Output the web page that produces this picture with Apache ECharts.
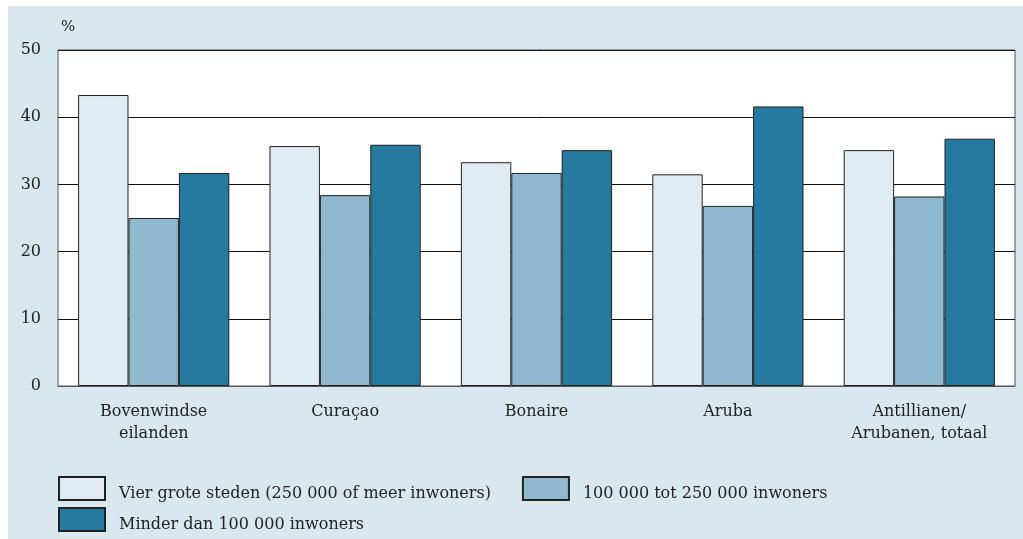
<!DOCTYPE html>
<html>
<head>
<meta charset="utf-8">
<script src="https://cdn.jsdelivr.net/npm/echarts@6/dist/echarts.min.js"></script>
<style>html,body{margin:0;padding:0;background:#fff}#c{width:1023px;height:539px}</style>
</head>
<body>
<div id="c"></div>
<script>
const categories = ['Bovenwindse\neilanden', 'Curaçao', 'Bonaire', 'Aruba', 'Antillianen/\nArubanen, totaal'];
const seriesNames = ['Vier grote steden (250 000 of meer inwoners)', '100 000 tot 250 000 inwoners', 'Minder dan 100 000 inwoners'];
const grootsteden = [43.3, 35.7, 33.3, 31.5, 35.1];
const middel = [25.0, 28.4, 31.7, 26.8, 28.2];
const klein = [31.7, 35.9, 35.1, 41.6, 36.8];
const colors = ['#e0ebf2', '#8fb9cf', '#26799f'];
const FONT = 'DejaVu Serif';

const chart = echarts.init(document.getElementById('c'), null, {renderer: 'canvas'});
const mk = (i, data) => ({
  name: seriesNames[i], type: 'bar', data: data,
  barGap: '0%', barCategoryGap: '21%',
  itemStyle: {color: colors[i], borderColor: '#222', borderWidth: 1},
  emphasis: {disabled: true}
});
const legendText = {
  fontFamily: FONT, fontSize: 16, color: '#222',
  rich: {a: {fontFamily: FONT, fontSize: 16, color: '#222', padding: [10, 0, 0, 9]}}
};
chart.setOption({
  animation: false,
  textStyle: {fontFamily: FONT},
  graphic: [
    {type: 'rect', z: -10, shape: {x: 8, y: 6, width: 1015, height: 533}, style: {fill: '#d9e7ef'}},
    {type: 'text', left: 61, top: 20, style: {text: '%', fontFamily: FONT, fontSize: 15, fill: '#222'}}
  ],
  grid: {left: 58, right: 8, top: 50, bottom: 153, show: true, backgroundColor: '#fff', borderColor: '#555', borderWidth: 1},
  legend: [
    {data: [seriesNames[0], seriesNames[1]], left: 58, top: 476, padding: 0, itemWidth: 46, itemHeight: 23, itemGap: 31,
     icon: 'rect', formatter: '{a|{name}}', textStyle: legendText},
    {data: [seriesNames[2]], left: 58, top: 507, padding: 0, itemWidth: 46, itemHeight: 23,
     icon: 'rect', formatter: '{a|{name}}', textStyle: legendText}
  ],
  xAxis: {
    type: 'category', data: categories,
    axisLine: {show: true, lineStyle: {color: '#555'}}, axisTick: {show: false},
    axisLabel: {fontFamily: FONT, fontSize: 16, color: '#222', margin: 15, lineHeight: 22, interval: 0}
  },
  yAxis: {
    type: 'value', min: 0, max: 50, interval: 10,
    axisLine: {show: false}, axisTick: {show: false},
    axisLabel: {fontFamily: FONT, fontSize: 16, color: '#222', margin: 17},
    splitLine: {show: true, lineStyle: {color: '#111', width: 1}}
  },
  series: [mk(0, grootsteden), mk(1, middel), mk(2, klein)]
});
</script>
</body>
</html>
